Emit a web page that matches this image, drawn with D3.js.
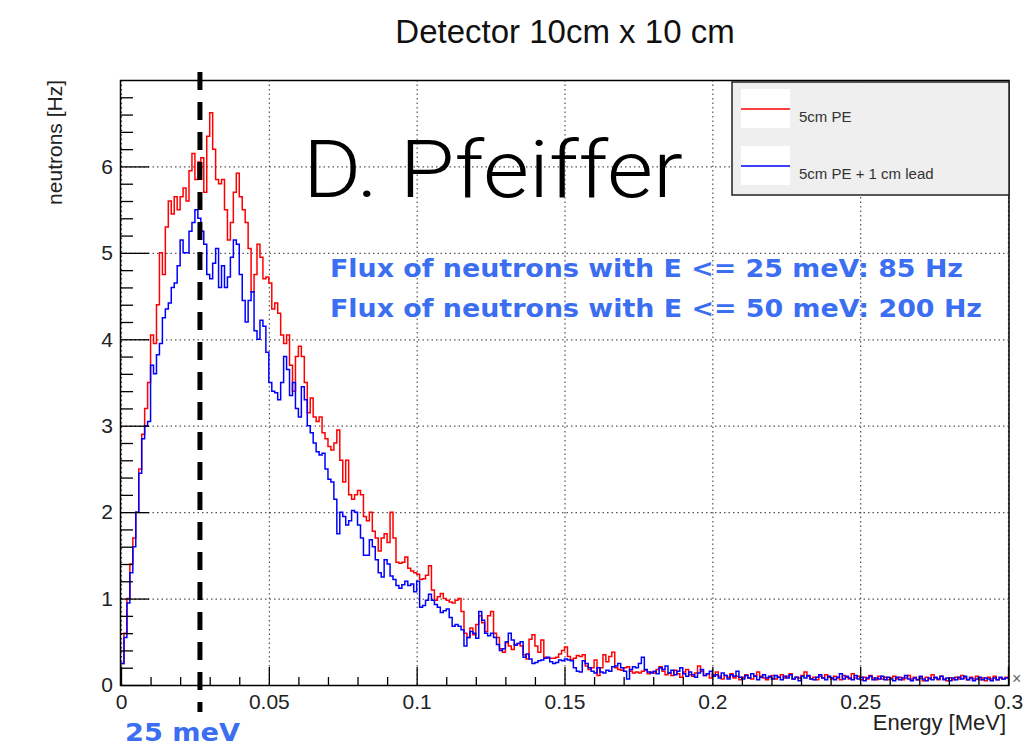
<!DOCTYPE html>
<html>
<head>
<meta charset="utf-8">
<script src="https://d3js.org/d3.v7.min.js"></script>
<style>
  body { margin: 0; background: #fff; }
  svg { display: block; font-family: "Liberation Sans", Arial, Helvetica, sans-serif; }
</style>
</head>
<body>
<div id="chart"></div>
<script>
// histogram: 300 bins of 0.001 MeV from 0 to 0.3 MeV
var binWidth = 0.001;
var xTicks = [0, 0.05, 0.1, 0.15, 0.2, 0.25, 0.3];
var yTicks = [0, 1, 2, 3, 4, 5, 6];
var seriesNames = ["5cm PE", "5cm PE + 1 cm lead"];
var seriesColors = ["#ff0000", "#0000ff"];
var markerEnergy = 0.0267;   // dashed line "25 meV"

var pe5cm = [
  0.25, 0.6, 1.0, 1.4, 1.7, 2.0, 2.5, 2.9, 3.2, 3.5,
  4.05, 3.95, 4.4, 5.0, 4.75, 5.3, 5.6, 5.45, 5.65, 5.5,
  5.65, 5.75, 5.6, 5.95, 6.15, 5.85, 6.05, 6.1, 5.7, 6.35,
  6.62, 6.2, 5.85, 5.8, 5.85, 5.5, 5.15, 5.35, 5.7, 5.92,
  5.65, 5.5, 5.35, 5.05, 4.55, 4.75, 5.1, 4.95, 4.7, 4.72,
  4.65, 4.35, 4.42, 4.3, 4.05, 3.95, 4.05, 3.7, 3.4, 3.8,
  3.92, 3.8, 3.5, 3.15, 3.32, 3.1, 3.05, 3.1, 2.92, 2.85,
  2.76, 2.72, 2.8, 2.95, 2.6, 2.35, 2.6, 2.2, 2.15, 2.2,
  2.25, 2.2, 1.95, 1.9, 2.0, 1.78, 1.7, 1.55, 1.7, 1.75,
  1.65, 2.0, 1.7, 1.42, 1.41, 1.42, 1.48, 1.35, 1.32, 1.3,
  1.28, 1.22, 1.23, 1.27, 1.38, 1.1, 0.98, 1.02, 1.06, 1.0,
  0.98, 0.96, 0.95, 0.98, 1.0, 0.85, 0.6, 0.55, 0.66, 0.58,
  0.7, 0.8, 0.72, 0.62, 0.8, 0.85, 0.6, 0.55, 0.42, 0.38,
  0.49, 0.45, 0.41, 0.47, 0.48, 0.45, 0.35, 0.3, 0.53, 0.58,
  0.45, 0.38, 0.52, 0.32, 0.31, 0.31, 0.31, 0.32, 0.36, 0.4,
  0.44, 0.33, 0.29, 0.31, 0.34, 0.33, 0.35, 0.22, 0.18, 0.2,
  0.29, 0.11, 0.2, 0.35, 0.27, 0.33, 0.38, 0.2, 0.18, 0.17,
  0.2, 0.21, 0.16, 0.14, 0.15, 0.14, 0.16, 0.17, 0.13, 0.15,
  0.14, 0.18, 0.21, 0.16, 0.12, 0.14, 0.11, 0.17, 0.13, 0.09,
  0.15, 0.18, 0.12, 0.1, 0.14, 0.22, 0.16, 0.11, 0.13, 0.08,
  0.12, 0.15, 0.1, 0.07, 0.11, 0.09, 0.13, 0.08, 0.1, 0.06,
  0.09, 0.12, 0.08, 0.07, 0.11, 0.15, 0.1, 0.08, 0.06, 0.09,
  0.11, 0.07, 0.09, 0.12, 0.08, 0.1, 0.13, 0.07, 0.09, 0.08,
  0.11, 0.15, 0.1, 0.07, 0.09, 0.06, 0.1, 0.08, 0.12, 0.09,
  0.07, 0.1, 0.08, 0.06, 0.11, 0.09, 0.07, 0.13, 0.08, 0.1,
  0.06, 0.09, 0.07, 0.11, 0.08, 0.06, 0.1, 0.07, 0.09, 0.06,
  0.08, 0.1, 0.07, 0.09, 0.06, 0.08, 0.11, 0.07, 0.09, 0.06,
  0.08, 0.05, 0.09, 0.07, 0.12, 0.08, 0.06, 0.1, 0.07, 0.05,
  0.08, 0.06, 0.09, 0.07, 0.11, 0.08, 0.06, 0.09, 0.07, 0.1,
  0.06, 0.08, 0.05, 0.09, 0.07, 0.1, 0.06, 0.08, 0.07, 0.09
];

var pe5cmLead = [
  0.25, 0.55, 0.95, 1.3, 1.6, 2.0, 2.45, 2.85, 3.0, 3.05,
  3.7, 3.6, 3.82, 3.95, 4.25, 4.35, 4.42, 4.6, 4.65, 4.85,
  5.15, 5.0, 5.0, 5.25, 5.35, 5.5, 5.4, 5.25, 5.1, 4.75,
  4.7, 4.88, 5.05, 4.6, 4.85, 4.6, 4.72, 4.95, 5.15, 5.1,
  4.75, 4.45, 4.2, 4.45, 4.55, 4.1, 4.0, 4.22, 4.15, 3.85,
  3.5, 3.4, 3.38, 3.3, 3.5, 3.8, 3.65, 3.35, 3.5, 3.2,
  3.1, 3.45, 3.3, 3.0, 2.92, 2.8, 2.7, 2.66, 2.68, 2.5,
  2.38, 2.35, 2.15, 1.75, 2.0, 1.95, 1.85, 1.9, 2.02, 2.0,
  1.85, 1.7, 1.5, 1.5, 1.68, 1.6, 1.45, 1.3, 1.25, 1.45,
  1.4, 1.26, 1.22, 1.15, 1.12, 1.16, 1.2, 1.15, 1.17, 1.08,
  1.2, 0.9, 0.92, 0.98, 1.05, 0.98, 0.93, 0.9, 0.84, 0.86,
  0.88, 0.78, 0.68, 0.7, 0.68, 0.64, 0.45, 0.55, 0.62, 0.6,
  0.54, 0.85, 0.75, 0.6, 0.57, 0.6, 0.55, 0.47, 0.4, 0.42,
  0.5, 0.6, 0.52, 0.46, 0.48, 0.5, 0.32, 0.36, 0.3, 0.25,
  0.26, 0.28, 0.29, 0.31, 0.32, 0.27, 0.25, 0.26, 0.29, 0.28,
  0.3, 0.29, 0.28, 0.2, 0.16, 0.15, 0.28, 0.25, 0.2, 0.16,
  0.14, 0.2, 0.15, 0.14, 0.17, 0.16, 0.21, 0.22, 0.25, 0.2,
  0.16, 0.07, 0.18, 0.21, 0.2, 0.25, 0.32, 0.18, 0.15, 0.14,
  0.16, 0.13, 0.2, 0.18, 0.22, 0.14, 0.17, 0.12, 0.16, 0.2,
  0.13, 0.1, 0.15, 0.12, 0.09, 0.14, 0.18, 0.11, 0.13, 0.16,
  0.1, 0.12, 0.08, 0.14, 0.11, 0.07, 0.12, 0.1, 0.16, 0.09,
  0.07, 0.11, 0.08, 0.13, 0.1, 0.06, 0.09, 0.12, 0.08, 0.1,
  0.07, 0.11, 0.09, 0.06, 0.1, 0.08, 0.12, 0.07, 0.09, 0.05,
  0.1, 0.08, 0.11, 0.07, 0.06, 0.09, 0.12, 0.08, 0.06, 0.1,
  0.08, 0.06, 0.09, 0.13, 0.07, 0.1, 0.08, 0.06, 0.11, 0.07,
  0.09, 0.05, 0.08, 0.1, 0.06, 0.08, 0.07, 0.1, 0.06, 0.09,
  0.07, 0.05, 0.09, 0.06, 0.08, 0.11, 0.07, 0.05, 0.08, 0.06,
  0.1, 0.07, 0.05, 0.08, 0.06, 0.09, 0.07, 0.1, 0.06, 0.08,
  0.05, 0.08, 0.06, 0.09, 0.07, 0.1, 0.06, 0.08, 0.05, 0.07,
  0.09, 0.06, 0.08, 0.07, 0.05, 0.08, 0.06, 0.09, 0.07, 0.08
];

var width = 1025, height = 750;
var plotLeft = 121, plotRight = 1008, plotTop = 80, plotBottom = 685;

var svg = d3.select("#chart").append("svg")
    .attr("width", width)
    .attr("height", height);

var x = d3.scaleLinear().domain([0, 0.3]).range([plotLeft, plotRight]);
var y = d3.scaleLinear().domain([0, 7]).range([plotBottom, plotTop]);

// title
svg.append("text")
    .attr("x", 565).attr("y", 43)
    .attr("text-anchor", "middle")
    .style("font-size", "33px")
    .style("fill", "#111")
    .text("Detector 10cm x 10 cm");

// dotted grid
var grid = svg.append("g").attr("class", "grid")
    .style("stroke", "#555").style("stroke-width", 1.2).style("stroke-dasharray", "1.5,3");
grid.selectAll("line.gx").data(xTicks).enter().append("line")
    .attr("x1", function(d) { return x(d) + 0.5; }).attr("x2", function(d) { return x(d) + 0.5; })
    .attr("y1", plotTop).attr("y2", plotBottom);
grid.selectAll("line.gy").data(yTicks).enter().append("line")
    .attr("x1", plotLeft).attr("x2", plotRight)
    .attr("y1", function(d) { return y(d) + 0.5; }).attr("y2", function(d) { return y(d) + 0.5; });

// histograms
svg.append("defs").append("clipPath").attr("id", "plotClip")
  .append("rect").attr("x", plotLeft).attr("y", plotTop)
  .attr("width", plotRight - plotLeft).attr("height", plotBottom - plotTop);

var stepLine = d3.line()
    .x(function(d) { return x(d[0]); })
    .y(function(d) { return y(d[1]); })
    .curve(d3.curveStepAfter);

function histPoints(values) {
  var pts = values.map(function(v, i) { return [i * binWidth, v]; });
  pts.push([values.length * binWidth, values[values.length - 1]]);
  return pts;
}

[pe5cm, pe5cmLead].forEach(function(values, k) {
  svg.append("path")
      .attr("clip-path", "url(#plotClip)")
      .attr("d", stepLine(histPoints(values)))
      .style("fill", "none")
      .style("stroke", seriesColors[k])
      .style("stroke-width", 1.5);
});

// axes (ROOT style: ticks inside frame)
svg.append("g").attr("transform", "translate(0," + plotBottom + ")")
    .call(d3.axisBottom(x).tickValues(xTicks).tickSize(-18).tickPadding(9)
      .tickFormat(function(d) { return String(d); }));
svg.append("g").attr("transform", "translate(0," + plotBottom + ")")
    .call(d3.axisBottom(x).tickValues(d3.range(1, 30).map(function(i) { return i / 100; })
      .filter(function(d) { return Math.round(d * 1000) % 50 !== 0; }))
      .tickSize(-8).tickFormat(""));
svg.append("g").attr("transform", "translate(" + plotLeft + ",0)")
    .call(d3.axisLeft(y).tickValues(yTicks).tickSize(-28).tickPadding(8)
      .tickFormat(d3.format("d")));
svg.append("g").attr("transform", "translate(" + plotLeft + ",0)")
    .call(d3.axisLeft(y).tickValues(d3.range(1, 35).map(function(i) { return i / 5; })
      .filter(function(d) { return Math.round(d * 5) % 5 !== 0; }))
      .tickSize(-12).tickFormat(""));

svg.selectAll(".domain").remove();
svg.selectAll(".tick line").style("stroke", "#000").style("stroke-width", 1.3);
svg.selectAll(".tick text").style("font-size", "21px").style("fill", "#222")
    .style("font-family", "'Liberation Sans', Arial, sans-serif");

// frame
svg.append("rect")
    .attr("x", plotLeft - 0.5).attr("y", plotTop + 0.5)
    .attr("width", plotRight - plotLeft + 1.5).attr("height", plotBottom - plotTop)
    .style("fill", "none").style("stroke", "#000").style("stroke-width", 1.5);

// axis titles
svg.append("text")
    .attr("x", 1006).attr("y", 730)
    .attr("text-anchor", "end")
    .style("font-size", "22px").style("fill", "#222")
    .text("Energy [MeV]");
svg.append("text")
    .attr("transform", "translate(62,80) rotate(-90)")
    .attr("text-anchor", "end")
    .style("font-size", "21px").style("fill", "#222")
    .text("neutrons [Hz]");
svg.append("text")
    .attr("x", 1012).attr("y", 684)
    .style("font-size", "16px").style("fill", "#666")
    .text("×");

// legend
var legend = svg.append("g");
legend.append("rect")
    .attr("x", 732).attr("y", 82).attr("width", 277).attr("height", 113)
    .style("fill", "#efefef").style("stroke", "#222").style("stroke-width", 1.5);
seriesNames.forEach(function(name, k) {
  var yy = 89 + k * 57;
  legend.append("rect").attr("x", 741).attr("y", yy).attr("width", 49).attr("height", 39)
      .style("fill", "#fff");
  legend.append("line").attr("x1", 741).attr("x2", 790).attr("y1", yy + 20).attr("y2", yy + 20)
      .style("stroke", seriesColors[k]).style("stroke-width", 1.5);
  legend.append("text").attr("x", 799).attr("y", yy + 33)
      .style("font-size", "15px").style("fill", "#333")
      .text(name);
});

// annotations
svg.append("line")
    .attr("x1", x(markerEnergy)).attr("x2", x(markerEnergy))
    .attr("y1", 72).attr("y2", 712)
    .style("stroke", "#000").style("stroke-width", 5)
    .style("stroke-dasharray", "18,12");

svg.append("text")
    .attr("x", 303).attr("y", 197)
    .attr("textLength", 380).attr("lengthAdjust", "spacingAndGlyphs")
    .style("font-family", "Roboto, 'Liberation Sans', sans-serif")
    .style("font-weight", 300)
    .style("font-size", "80px").style("fill", "#000")
    .text("D. Pfeiffer");

var blueText = "#3b6ef0";
svg.append("text")
    .attr("x", 330).attr("y", 277)
    .attr("textLength", 633).attr("lengthAdjust", "spacingAndGlyphs")
    .style("font-family", "'DejaVu Sans', sans-serif").style("font-weight", "bold")
    .style("font-size", "25px").style("fill", blueText)
    .text("Flux of neutrons with E <= 25 meV: 85 Hz");
svg.append("text")
    .attr("x", 330).attr("y", 317)
    .attr("textLength", 652).attr("lengthAdjust", "spacingAndGlyphs")
    .style("font-family", "'DejaVu Sans', sans-serif").style("font-weight", "bold")
    .style("font-size", "25px").style("fill", blueText)
    .text("Flux of neutrons with E <= 50 meV: 200 Hz");
svg.append("text")
    .attr("x", 125).attr("y", 741)
    .attr("textLength", 115).attr("lengthAdjust", "spacingAndGlyphs")
    .style("font-family", "'DejaVu Sans', sans-serif").style("font-weight", "bold")
    .style("font-size", "25px").style("fill", blueText)
    .text("25 meV");
</script>
</body>
</html>
